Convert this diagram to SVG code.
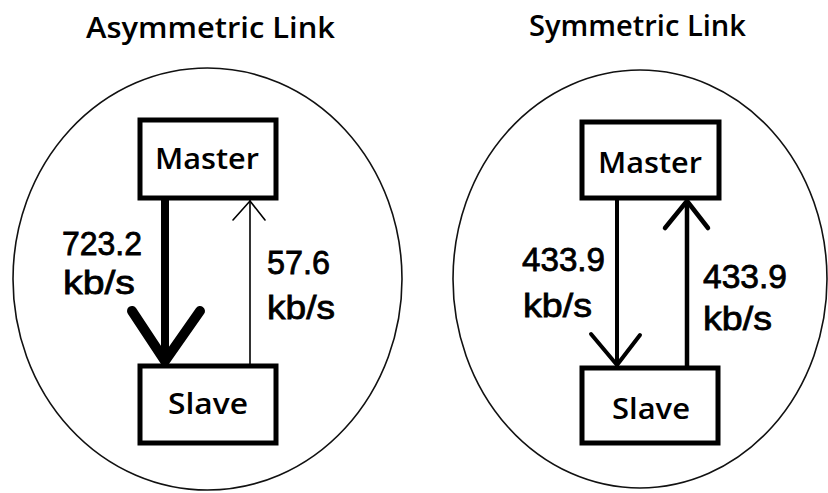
<svg xmlns="http://www.w3.org/2000/svg" width="828" height="493" viewBox="0 0 828 493">
  <style>
    .bg { fill: #ffffff; }
    .oval { fill: none; stroke: #111; stroke-width: 1.6; }
    .box { fill: #ffffff; stroke: #000; stroke-width: 5; }
    .t { font-family: "Open Sans", "DejaVu Sans", "Liberation Sans", sans-serif; font-weight: 600; fill: #000; }
    .title { font-size: 29px; }
    .node { font-size: 28px; }
    .rate { font-family: "Liberation Sans", Arial, sans-serif; font-weight: 400; font-size: 34px; stroke: #000; stroke-width: 0.8; }
    .line { fill: none; stroke: #000; stroke-linecap: round; stroke-linejoin: round; }
  </style>
  <rect class="bg" x="0" y="0" width="828" height="493"/>

  <!-- titles -->
  <text class="t title" x="86" y="38" textLength="249" lengthAdjust="spacingAndGlyphs">Asymmetric Link</text>
  <text class="t title" x="529" y="36" textLength="217" lengthAdjust="spacingAndGlyphs">Symmetric Link</text>

  <!-- boundaries of the two links -->
  <ellipse class="oval" cx="207.5" cy="279" rx="194.5" ry="211"/>
  <ellipse class="oval" cx="640" cy="279" rx="187" ry="209"/>

  <!-- asymmetric link nodes -->
  <g id="asym-master">
    <rect class="box" x="140" y="120" width="136" height="78"/>
    <text class="t node" x="155" y="169" textLength="104" lengthAdjust="spacingAndGlyphs">Master</text>
  </g>
  <g id="asym-slave">
    <rect class="box" x="140" y="366" width="136" height="77"/>
    <text class="t node" x="168" y="414" textLength="80" lengthAdjust="spacingAndGlyphs">Slave</text>
  </g>

  <!-- symmetric link nodes -->
  <g id="sym-master">
    <rect class="box" x="582" y="122" width="137" height="76"/>
    <text class="t node" x="598" y="173" textLength="104" lengthAdjust="spacingAndGlyphs">Master</text>
  </g>
  <g id="sym-slave">
    <rect class="box" x="582" y="368" width="136" height="75"/>
    <text class="t node" x="612" y="419" textLength="78" lengthAdjust="spacingAndGlyphs">Slave</text>
  </g>

  <!-- connectors -->
  <g id="connectors">
    <!-- asymmetric: master to slave, heavy -->
    <line class="line" x1="165" y1="200" x2="165" y2="362" stroke-width="8"/>
    <polyline class="line" points="132,311 165,361 200,311" stroke-width="10"/>
    <!-- asymmetric: slave to master, light -->
    <line class="line" x1="250" y1="364" x2="250" y2="200" stroke-width="1.6"/>
    <polyline class="line" points="233,220 250,201 265,220" stroke-width="1.6"/>
    <!-- symmetric: master to slave -->
    <line class="line" x1="617" y1="200" x2="617" y2="366" stroke-width="4"/>
    <polyline class="line" points="591,334 617,365 640,335" stroke-width="4"/>
    <!-- symmetric: slave to master -->
    <line class="line" x1="687" y1="366" x2="687" y2="201" stroke-width="4.5"/>
    <polyline class="line" points="665,228 687,201 708,228" stroke-width="4.5"/>
  </g>

  <!-- rate labels -->
  <text class="t rate" x="62" y="255" textLength="80" lengthAdjust="spacingAndGlyphs">723.2</text>
  <text class="t rate" x="63" y="294" textLength="72" lengthAdjust="spacingAndGlyphs">kb/s</text>
  <text class="t rate" x="267" y="274" textLength="63" lengthAdjust="spacingAndGlyphs">57.6</text>
  <text class="t rate" x="267" y="319" textLength="68" lengthAdjust="spacingAndGlyphs">kb/s</text>
  <text class="t rate" x="522" y="271" textLength="83" lengthAdjust="spacingAndGlyphs">433.9</text>
  <text class="t rate" x="523" y="317" textLength="69" lengthAdjust="spacingAndGlyphs">kb/s</text>
  <text class="t rate" x="703" y="288" textLength="84" lengthAdjust="spacingAndGlyphs">433.9</text>
  <text class="t rate" x="703" y="330" textLength="69" lengthAdjust="spacingAndGlyphs">kb/s</text>
</svg>
